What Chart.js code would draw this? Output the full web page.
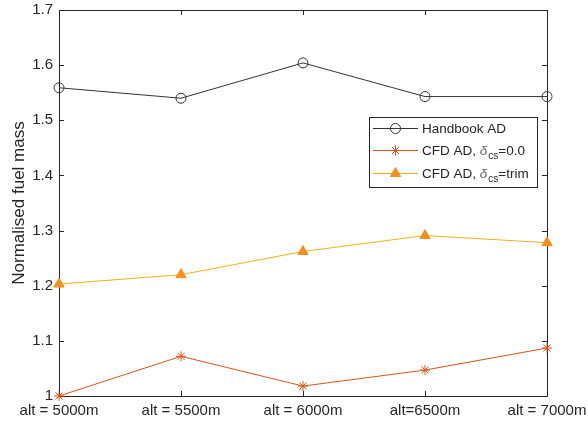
<!DOCTYPE html>
<html>
<head>
<meta charset="utf-8">
<script src="https://cdn.jsdelivr.net/npm/chart.js@4.4.1/dist/chart.umd.min.js"></script>
<style>
html,body{margin:0;padding:0;background:#fff;}
#wrap{width:588px;height:425px;position:relative;}
</style>
</head>
<body>
<div id="wrap"><canvas id="c" width="588" height="425"></canvas></div>
<script>
const categories = ['alt = 5000m', 'alt = 5500m', 'alt = 6000m', 'alt=6500m', 'alt = 7000m'];
const handbookAD = [1.559, 1.540, 1.604, 1.543, 1.543];
const cfdZero = [1.000, 1.072, 1.018, 1.047, 1.087];
const cfdTrim = [1.203, 1.220, 1.262, 1.291, 1.278];
const yTickValues = [1, 1.1, 1.2, 1.3, 1.4, 1.5, 1.6, 1.7];
const yTickLabels = ['1', '1.1', '1.2', '1.3', '1.4', '1.5', '1.6', '1.7'];
const yTitle = 'Normalised fuel mass';
const legendItems = [
  {pre: 'Handbook AD', sub: null, post: ''},
  {pre: 'CFD AD, ', sub: 'cs', post: '=0.0'},
  {pre: 'CFD AD, ', sub: 'cs', post: '=trim'}
];

const FONT = '"Liberation Sans", Arial, Helvetica, sans-serif';
const AXIS = '#262626';

const framePlugin = {
  id: 'frame',
  beforeDatasetsDraw(chart) {
    const {ctx, chartArea: a, scales} = chart;
    ctx.save();
    ctx.strokeStyle = AXIS;
    ctx.lineWidth = 1;
    ctx.beginPath();
    ctx.rect(Math.round(a.left) + 0.5, Math.round(a.top) + 0.5, Math.round(a.right - a.left), Math.round(a.bottom - a.top));
    ctx.stroke();
    const tl = 5;
    ctx.beginPath();
    yTickValues.forEach(v => {
      const y = Math.round(scales.y.getPixelForValue(v)) + 0.5;
      ctx.moveTo(a.left, y); ctx.lineTo(a.left + tl, y);
      ctx.moveTo(a.right, y); ctx.lineTo(a.right - tl, y);
    });
    categories.forEach((c, i) => {
      const x = Math.round(scales.x.getPixelForValue(i)) + 0.5;
      ctx.moveTo(x, a.bottom); ctx.lineTo(x, a.bottom - tl);
      ctx.moveTo(x, a.top); ctx.lineTo(x, a.top + tl);
    });
    ctx.stroke();
    ctx.restore();
  }
};

const legendPlugin = {
  id: 'customLegend',
  afterDraw(chart) {
    const ctx = chart.ctx;
    const bx = 369.5, by = 117.5, bw = 168, bh = 70;
    ctx.save();
    ctx.fillStyle = '#fff';
    ctx.fillRect(bx, by, bw, bh);
    ctx.strokeStyle = AXIS;
    ctx.lineWidth = 1;
    ctx.strokeRect(bx, by, bw, bh);
    ctx.restore();
    const rowsY = [128, 150, 173];
    chart.data.datasets.forEach((ds, i) => {
      const y = rowsY[i];
      ctx.save();
      ctx.strokeStyle = ds.borderColor;
      ctx.lineWidth = 1;
      ctx.beginPath(); ctx.moveTo(373, y + 0.5); ctx.lineTo(418, y + 0.5); ctx.stroke();
      ctx.fillStyle = ds.pointBackgroundColor;
      ctx.strokeStyle = ds.pointBorderColor;
      ctx.lineWidth = ds.pointBorderWidth || 1;
      Chart.helpers.drawPoint(ctx, {pointStyle: ds.pointStyle, radius: ds.pointRadius, rotation: 0, borderWidth: ds.pointBorderWidth || 1}, 395.5, y + 0.5);
      ctx.restore();
      const it = legendItems[i];
      ctx.save();
      ctx.textBaseline = 'middle';
      ctx.textAlign = 'left';
      ctx.fillStyle = AXIS;
      ctx.font = '13.5px ' + FONT;
      let x = 422;
      ctx.fillText(it.pre, x, y + 1);
      x += ctx.measureText(it.pre).width;
      if (it.sub) {
        ctx.font = 'italic 13.5px ' + FONT;
        ctx.fillStyle = '#666';
        ctx.fillText('\u03b4', x, y + 1);
        x += ctx.measureText('\u03b4').width + 1;
        ctx.font = '10px ' + FONT;
        ctx.fillStyle = AXIS;
        ctx.fillText(it.sub, x, y + 6);
        x += ctx.measureText(it.sub).width;
        ctx.font = '13.5px ' + FONT;
        ctx.fillText(it.post, x, y + 1);
      }
      ctx.restore();
    });
  }
};

new Chart(document.getElementById('c'), {
  type: 'line',
  data: {
    labels: categories,
    datasets: [
      {
        label: 'Handbook AD',
        data: handbookAD,
        borderColor: '#333333',
        borderWidth: 1,
        pointStyle: 'circle',
        pointRadius: 5,
        pointBackgroundColor: 'rgba(255,255,255,0)',
        pointBorderColor: '#333333',
        pointBorderWidth: 1,
        tension: 0,
        clip: false
      },
      {
        label: 'CFD AD, δcs=0.0',
        data: cfdZero,
        borderColor: '#D95319',
        borderWidth: 1,
        pointStyle: 'star',
        pointRadius: 5,
        pointBackgroundColor: '#D95319',
        pointBorderColor: '#E0501A',
        pointBorderWidth: 1,
        tension: 0,
        clip: false
      },
      {
        label: 'CFD AD, δcs=trim',
        data: cfdTrim,
        borderColor: '#EDB120',
        borderWidth: 1,
        pointStyle: 'triangle',
        pointRadius: 6,
        pointBackgroundColor: '#EF9020',
        pointBorderColor: '#EF9020',
        pointBorderWidth: 1,
        tension: 0,
        clip: false
      }
    ]
  },
  options: {
    responsive: false,
    animation: false,
    devicePixelRatio: 1,
    layout: {padding: {top: 10, right: 41, left: 0, bottom: 0}},
    plugins: {legend: {display: false}, tooltip: {enabled: false}},
    elements: {point: {hoverRadius: 5}},
    scales: {
      x: {
        type: 'category',
        offset: false,
        grid: {display: false, drawTicks: false},
        border: {display: false},
        ticks: {color: AXIS, font: {family: FONT, size: 15}, padding: 6, maxRotation: 0, autoSkip: false},
        afterFit(s) { s.height = 29; s.paddingLeft = 0; s.paddingRight = 0; }
      },
      y: {
        type: 'linear',
        min: 1,
        max: 1.7,
        afterBuildTicks(s) { s.ticks = yTickValues.map(v => ({value: v})); },
        grid: {display: false, drawTicks: false},
        border: {display: false},
        ticks: {
          color: AXIS,
          font: {family: FONT, size: 15},
          padding: 6,
          callback(v) { const i = yTickValues.findIndex(t => Math.abs(t - v) < 1e-9); return i >= 0 ? yTickLabels[i] : ''; }
        },
        title: {display: true, text: yTitle, color: AXIS, font: {family: FONT, size: 17}, padding: {top: 9, bottom: 0}},
        afterFit(s) { s.width = 59; s.paddingTop = 0; s.paddingBottom = 0; }
      }
    }
  },
  plugins: [framePlugin, legendPlugin]
});
</script>
</body>
</html>
